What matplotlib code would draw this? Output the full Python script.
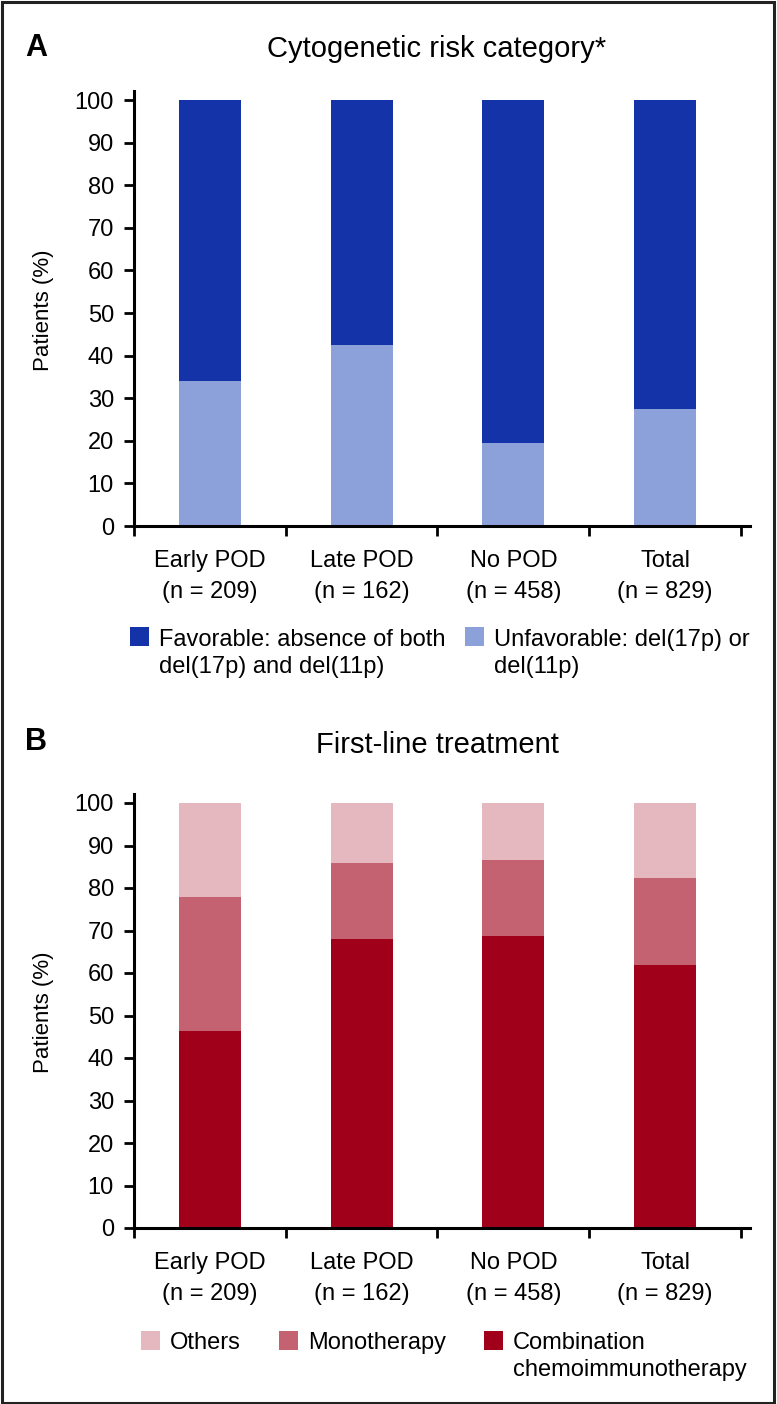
import matplotlib
matplotlib.use("Agg")
import matplotlib.pyplot as plt
from matplotlib.patches import Rectangle
from matplotlib.transforms import blended_transform_factory

plt.rcParams['font.family'] = ['Liberation Sans', 'DejaVu Sans']

group_names = ["Early POD", "Late POD", "No POD", "Total"]
group_n = ["(n = 209)", "(n = 162)", "(n = 458)", "(n = 829)"]

# Panel A: cytogenetic risk (%)
unfavorable = [34.0, 42.5, 19.4, 27.5]
favorable = [100 - v for v in unfavorable]

# Panel B: first-line treatment (%)
combination = [46.4, 67.9, 68.8, 61.9]
monotherapy = [31.5, 17.9, 17.8, 20.4]
others = [100 - c - m for c, m in zip(combination, monotherapy)]

blue_dark = "#1533A8"
blue_light = "#8CA0DA"
red_dark = "#A0001A"
red_mid = "#C56271"
red_light = "#E4B8BE"

W, H = 777, 1404
fig = plt.figure(figsize=(W / 100, H / 100), dpi=100)


def fx(px):
    return px / W


def fy(py):
    return 1 - py / H


AX_L, AX_R = 134, 750
X_LO, X_HI = -0.5, 3.5 + (750 - 741) / 151.75
YTOP = 102.0


def make_axes(y0, y100):
    ppu = (y0 - y100) / 100.0
    h = ppu * YTOP
    ax = fig.add_axes([fx(AX_L), fy(y0), fx(AX_R) - fx(AX_L), h / H])
    ax.set_xlim(X_LO, X_HI)
    ax.set_ylim(0, YTOP)
    ax.spines['top'].set_visible(False)
    ax.spines['right'].set_visible(False)
    ax.spines['left'].set_linewidth(2.2)
    ax.spines['bottom'].set_linewidth(2.2)
    ax.set_yticks(range(0, 101, 10))
    ax.tick_params(axis='y', length=7, width=2, labelsize=17, pad=7.5)
    ax.set_xticks([-0.5, 0.5, 1.5, 2.5, 3.5])
    ax.set_xticklabels([])
    ax.tick_params(axis='x', length=7, width=2)
    tr = blended_transform_factory(ax.transData, fig.transFigure)
    for i, (nm, nn) in enumerate(zip(group_names, group_n)):
        ax.text(i, fy(y0 + 41), nm, ha='center', va='baseline', fontsize=17, transform=tr)
        ax.text(i, fy(y0 + 72), nn, ha='center', va='baseline', fontsize=17, transform=tr)
    return ax


def leg_item(xsq, ycen, color, lines):
    fig.patches.append(Rectangle((fx(xsq), fy(ycen + 9.5)), 19 / W, 19 / H,
                                 transform=fig.transFigure, facecolor=color, edgecolor='none'))
    for k, line in enumerate(lines):
        fig.text(fx(xsq + 29), fy(ycen + 9 + 27 * k), line, fontsize=17,
                 va='baseline', ha='left')


x = range(len(group_names))
bw = 0.41

# ---------------- Panel A ----------------
axA = make_axes(526, 100)
axA.bar(x, unfavorable, width=bw, color=blue_light)
axA.bar(x, favorable, width=bw, bottom=unfavorable, color=blue_dark)

fig.text(fx(25), fy(48), "A", fontsize=22, fontweight='bold', va='center', ha='left')
fig.text(fx(437), fy(49), "Cytogenetic risk category*", fontsize=21, va='center', ha='center')
fig.text(fx(43), fy(310), "Patients (%)", fontsize=16, rotation=90, va='center', ha='center')

leg_item(130, 637, blue_dark, ["Favorable: absence of both", "del(17p) and del(11p)"])
leg_item(465, 637, blue_light, ["Unfavorable: del(17p) or", "del(11p)"])

# ---------------- Panel B ----------------
axB = make_axes(1228, 803)
axB.bar(x, combination, width=bw, color=red_dark)
axB.bar(x, monotherapy, width=bw, bottom=combination, color=red_mid)
bottoms = [c + m for c, m in zip(combination, monotherapy)]
axB.bar(x, others, width=bw, bottom=bottoms, color=red_light)

fig.text(fx(25), fy(742), "B", fontsize=22, fontweight='bold', va='center', ha='left')
fig.text(fx(437), fy(745), "First-line treatment", fontsize=21, va='center', ha='center')
fig.text(fx(43), fy(1012), "Patients (%)", fontsize=16, rotation=90, va='center', ha='center')

leg_item(141, 1340, red_light, ["Others"])
leg_item(279, 1340, red_mid, ["Monotherapy"])
leg_item(484, 1340, red_dark, ["Combination", "chemoimmunotherapy"])

# Frame around the whole figure
fig.patches.append(Rectangle((1.5 / W, 1.5 / H), 1 - 4.5 / W, 1 - 3.5 / H, transform=fig.transFigure,
                             fill=False, edgecolor='#222222', linewidth=2.2))

fig.savefig("out.png", dpi=100)
